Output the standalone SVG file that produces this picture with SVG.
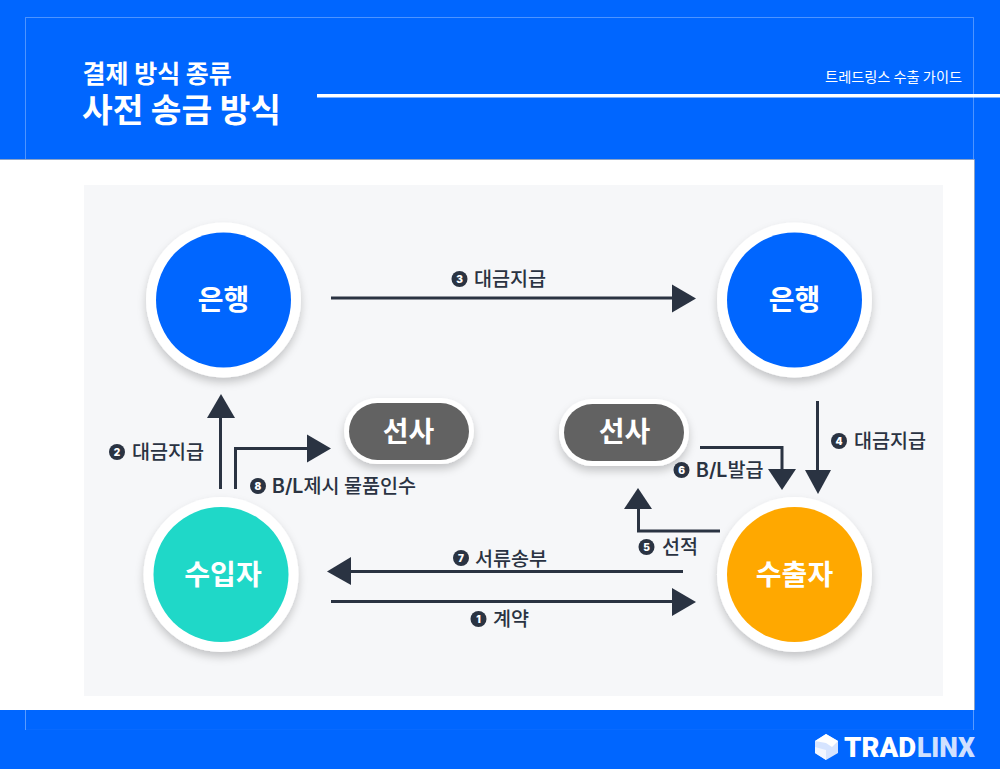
<svg xmlns="http://www.w3.org/2000/svg" width="1000" height="769" viewBox="0 0 1000 769">
<style>
text{font-family:"Noto Sans CJK KR","Noto Sans",sans-serif}
.node{fill:#fff;font-size:28px;font-weight:700;text-anchor:middle}
.lbl{fill:#2a3342;font-size:19.600px;font-weight:500}
.lat{font-family:Inter,"Noto Sans",sans-serif;font-weight:600}
.num{fill:#fff;font-size:10px;font-weight:900;text-anchor:middle;font-family:"Inter","Liberation Sans",sans-serif}
.badge{fill:#2a3342}
.wire{fill:none;stroke:#2a3342;stroke-width:3}
.head{fill:#2a3342}
.ring{fill:#fff;filter:url(#sh)}
.logo{font-family:Roboto,Inter,sans-serif;font-size:28px;font-weight:900}
</style>
<defs>
<filter id="sh" x="-20%" y="-20%" width="140%" height="140%"><feDropShadow dx="0" dy="5" stdDeviation="4.500" flood-color="#000" flood-opacity=".2"/></filter>
</defs>
<rect width="1000" height="769" fill="#0066ff"/>
<path d="M25.500 160V17.500H973.500V160" fill="none" stroke="#fff" stroke-opacity=".3"/>
<rect x="0" y="160" width="974" height="550" fill="#fff"/>
<path d="M0 159.500H974.500V710" fill="none" stroke="#8ca3c8"/>
<path d="M25.500 710V730M973.500 710V730" fill="none" stroke="#fff" stroke-opacity=".35"/>
<path d="M25.500 729.500H973.500" fill="none" stroke="#fff" stroke-opacity=".03"/>
<rect x="84" y="185" width="859" height="511" fill="#f6f7f9"/>
<g id="header">
<text x="82.500" y="83" fill="#fff" font-size="25" font-weight="700">결제 방식 종류</text>
<text x="82" y="121.500" fill="#fff" font-size="33.300" font-weight="700">사전 송금 방식</text>
<rect x="317" y="94" width="683" height="3.500" fill="#fff"/>
<text x="962" y="82" fill="#fff" font-size="14.200" text-anchor="end">트레드링스 수출 가이드</text>
</g>
<g id="connectors">
<path class="wire" d="M331 298H674"/><path class="head" d="M672 284.500L696 298.500L672 312.500Z"/>
<path class="wire" d="M220.500 489V416"/><path class="head" d="M207 418L221 394L235 418Z"/>
<path class="wire" d="M235.500 489V448.500H309"/><path class="head" d="M307 434.500L331 448.500L307 462.500Z"/>
<path class="wire" d="M817.500 401V472"/><path class="head" d="M805 470H831L818 494Z"/>
<path class="wire" d="M700 447.500H782V471"/><path class="head" d="M768 469H796L782 490Z"/>
<path class="wire" d="M720 531H638.500V507"/><path class="head" d="M624 509H652L638 488Z"/>
<path class="wire" d="M683 571.500H349"/><path class="head" d="M351 557V585L327 571.500Z"/>
<path class="wire" d="M331 601.500H674"/><path class="head" d="M672 588V616L696 602Z"/>
</g>
<g id="bank-left"><circle class="ring" cx="223.500" cy="300" r="77.500"/><circle cx="223.500" cy="300" r="67.500" fill="#0066ff"/><text class="node" x="223.500" y="310">은행</text></g>
<g id="bank-right"><circle class="ring" cx="794.500" cy="300" r="77.500"/><circle cx="794.500" cy="300" r="67.500" fill="#0066ff"/><text class="node" x="794.500" y="310">은행</text></g>
<g id="importer"><circle class="ring" cx="221" cy="574.500" r="77.500"/><circle cx="221" cy="574.500" r="67.500" fill="#1fd8c8"/><text class="node" x="223" y="585">수입자</text></g>
<g id="exporter"><circle class="ring" cx="794.500" cy="574.500" r="77.500"/><circle cx="794.500" cy="574.500" r="67.500" fill="#ffa800"/><text class="node" x="794.500" y="585">수출자</text></g>
<g id="carrier-left"><rect class="ring" x="344" y="398" width="130" height="66" rx="33"/><rect x="349" y="403" width="120" height="57" rx="28.500" fill="#626262"/><text class="node" x="408.500" y="442">선사</text></g>
<g id="carrier-right"><rect class="ring" x="559" y="399" width="130" height="67" rx="33"/><rect x="564" y="404" width="120" height="57" rx="28.500" fill="#626262"/><text class="node" x="624.500" y="442">선사</text></g>
<g id="labels">
<circle class="badge" cx="459.500" cy="279" r="8"/><text class="num" x="459.500" y="282.500">3</text><text class="lbl" x="474" y="286">대금지급</text>
<circle class="badge" cx="117" cy="452" r="8"/><text class="num" x="117" y="455.500">2</text><text class="lbl" x="132" y="459">대금지급</text>
<circle class="badge" cx="258" cy="486" r="8"/><text class="num" x="258" y="489.500">8</text><text class="lbl" x="272" y="493"><tspan class="lat">B/L</tspan>제시 물품인수</text>
<circle class="badge" cx="839" cy="441" r="8"/><text class="num" x="839" y="444.500">4</text><text class="lbl" x="854" y="448">대금지급</text>
<circle class="badge" cx="681.500" cy="470" r="8"/><text class="num" x="681.500" y="473.500">6</text><text class="lbl" x="696" y="477"><tspan class="lat">B/L</tspan>발급</text>
<circle class="badge" cx="646.500" cy="547" r="8"/><text class="num" x="646.500" y="550.500">5</text><text class="lbl" x="662" y="554">선적</text>
<circle class="badge" cx="461" cy="558" r="8"/><text class="num" x="461" y="561.500">7</text><text class="lbl" x="475" y="565.500">서류송부</text>
<circle class="badge" cx="478.500" cy="619" r="8"/><text class="num" x="478.500" y="622.500">1</text><text class="lbl" x="493" y="626">계약</text>
</g>
<g id="logo">
<path d="M826 734L838 741V753L826 760L815 753V741Z" fill="#d6e4ff"/>
<path d="M826 734L838 741L832 747L826 743L815 741Z" fill="#fff"/>
<path d="M826 760L815 753V747L826 750Z" fill="#f2f6ff"/>
<text class="logo" x="844" y="757" fill="#fff" textLength="72" lengthAdjust="spacingAndGlyphs">TRAD</text>
<text class="logo" x="917" y="757" fill="#cfe0ff" textLength="58" lengthAdjust="spacingAndGlyphs">LINX</text>
</g>
</svg>
